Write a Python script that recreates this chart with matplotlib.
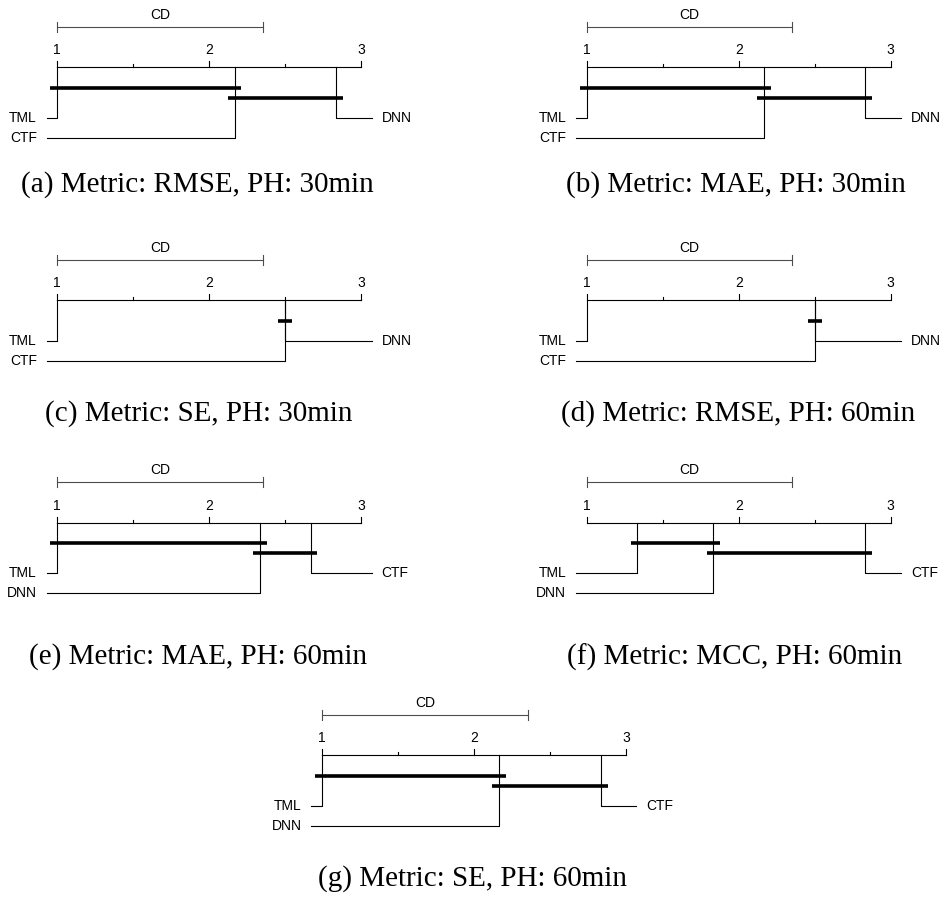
import matplotlib
matplotlib.use("Agg")
import matplotlib.pyplot as plt

# ---------------- data ----------------
panel_ids = ["a", "b", "c", "d", "e", "f", "g"]
metrics = ["RMSE", "MAE", "SE", "RMSE", "MAE", "MCC", "SE"]
horizons = ["30min", "30min", "30min", "60min", "60min", "60min", "60min"]
methods = ["TML", "CTF", "DNN"]
rank_TML = [1.0, 1.0, 1.0, 1.0, 1.0, 1.3333, 1.0]
rank_CTF = [2.1667, 2.1667, 2.5, 2.5, 2.6667, 2.8333, 2.8333]
rank_DNN = [2.8333, 2.8333, 2.5, 2.5, 2.3333, 1.8333, 2.1667]
cd_value = 1.3527
cliques = [
    [("TML", "CTF"), ("CTF", "DNN")],
    [("TML", "CTF"), ("CTF", "DNN")],
    [("CTF", "DNN")],
    [("CTF", "DNN")],
    [("TML", "DNN"), ("DNN", "CTF")],
    [("TML", "DNN"), ("DNN", "CTF")],
    [("TML", "DNN"), ("DNN", "CTF")],
]
rank_ticks = [1, 1.5, 2, 2.5, 3]

# ---------------- layout (pixels) ----------------
W, H = 944, 906
S = 152.0  # pixels per rank unit
anchors = [(57.3, 67.3), (586.7, 67.3), (57.3, 300.0), (586.7, 300.0),
           (57.3, 522.7), (586.7, 522.7), (322.0, 755.3)]
caption_pos = [(197, 185), (736, 185), (199, 414), (738, 414),
               (198, 657), (735, 657), (472, 879)]

LW = 0.8
LC = "black"
SANS = "Liberation Sans"
SERIF = "Liberation Serif"
FS = 10

fig = plt.figure(figsize=(W / 100, H / 100), dpi=100)

for p in range(len(panel_ids)):
    x0, y0 = anchors[p]
    ax = fig.add_axes([0, 0, 1, 1])
    ax.set_xlim(1 - x0 / S, 1 + (W - x0) / S)
    ax.set_ylim(H - y0, -y0)
    ax.axis("off")
    ax.patch.set_alpha(0)

    ranks = {"TML": rank_TML[p], "CTF": rank_CTF[p], "DNN": rank_DNN[p]}
    lo, hi = min(rank_ticks), max(rank_ticks)

    # main axis
    ax.plot([lo, hi], [0, 0], color=LC, lw=LW)
    for t in rank_ticks:
        L = 6 if float(t).is_integer() else 3
        ax.plot([t, t], [0, -L], color=LC, lw=LW)
        if float(t).is_integer():
            ax.text(t, -17, str(int(t)), ha="center", va="center",
                    fontsize=FS, family=SANS)

    # CD bar
    ycd = -40.3
    ax.plot([lo, lo + cd_value], [ycd, ycd], color="0.3", lw=LW)
    for e in (lo, lo + cd_value):
        ax.plot([e, e], [ycd - 5, ycd + 5], color="0.3", lw=LW)
    ax.text(lo + cd_value / 2, ycd - 12, "CD", ha="center", va="center",
            fontsize=FS, family=SANS)

    # cliques
    ext = 0.045
    for i, (m1, m2) in enumerate(cliques[p]):
        a, b = sorted([ranks[m1], ranks[m2]])
        yb = 20.7 + 10 * i
        ax.plot([a - ext, b + ext], [yb, yb], color="black", lw=2.6,
                solid_capstyle="butt", zorder=3)

    # labels
    order = sorted(methods, key=lambda m: ranks[m])
    k = len(order)
    nleft = (k + 1) // 2
    base = 20.7 + 10 * len(cliques[p]) + 10
    for i in range(nleft):
        m = order[i]
        r = ranks[m]
        yy = base + 20 * i
        ax.plot([r, r, lo - 0.07], [0, yy, yy], color=LC, lw=LW)
        ax.text(lo - 0.134, yy, m, ha="right", va="center",
                fontsize=FS, family=SANS)
    for i in range(nleft, k):
        m = order[i]
        r = ranks[m]
        yy = base + 20 * (k - i - 1)
        ax.plot([r, r, hi + 0.068], [0, yy, yy], color=LC, lw=LW)
        ax.text(hi + 0.134, yy, m, ha="left", va="center",
                fontsize=FS, family=SANS)

    cx, cy = caption_pos[p]
    fig.text(cx / W, 1 - cy / H,
             f"({panel_ids[p]}) Metric: {metrics[p]}, PH: {horizons[p]}",
             ha="center", va="center", fontsize=21, family=SERIF)

fig.savefig("out.png", dpi=100)
